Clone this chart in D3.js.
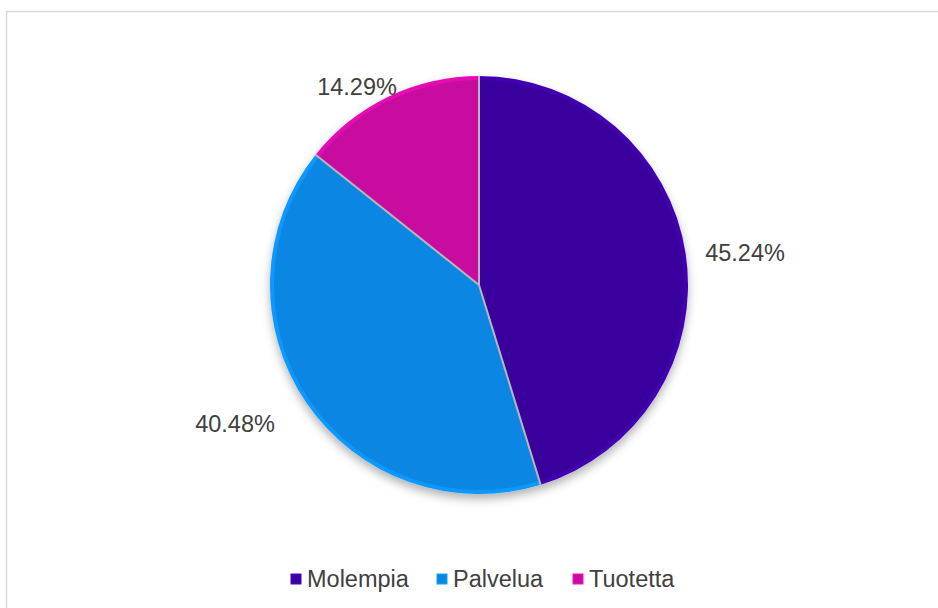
<!DOCTYPE html>
<html>
<head>
<meta charset="utf-8">
<script src="https://cdn.jsdelivr.net/npm/d3@7"></script>
<style>
  body { margin: 0; background: #fff; }
  svg { display: block; font-family: "Liberation Sans", Arial, sans-serif; }
</style>
</head>
<body>
<script>
    var categories = ['Molempia', 'Palvelua', 'Tuotetta'],
        values = [45.24, 40.48, 14.29],
        labels = ['45.24%', '40.48%', '14.29%'],
        colors = ['#3a009e', '#0b86e2', '#c90ca0'];

    var width = 938,
        height = 608,
        cx = 479,
        cy = 285,
        radius = 209;

    var svg = d3.select('body').append('svg')
        .attr('width', width)
        .attr('height', height);

    var defs = svg.append('defs');

    var shadow = defs.append('filter')
        .attr('id', 'shadow')
        .attr('x', '-20%').attr('y', '-20%')
        .attr('width', '140%').attr('height', '140%');
    shadow.append('feDropShadow')
        .attr('dx', 0).attr('dy', 5)
        .attr('stdDeviation', 5)
        .attr('flood-color', '#000')
        .attr('flood-opacity', 0.3);

    // frame
    svg.append('rect')
        .attr('x', 6.5).attr('y', 11.5)
        .attr('width', width)
        .attr('height', height)
        .attr('fill', 'none')
        .attr('stroke', '#d9d9d9')
        .attr('stroke-width', 1.5);

    var pie = d3.pie().sort(null).value(function (d) { return d; });
    var arcs = pie(values);

    var arc = d3.arc().innerRadius(0).outerRadius(radius);
    var inner = d3.arc().innerRadius(0).outerRadius(radius - 4);

    var g = svg.append('g')
        .attr('transform', 'translate(' + cx + ',' + cy + ')');

    var slices = g.append('g').attr('filter', 'url(#shadow)');

    slices.selectAll('path.slice')
        .data(arcs)
        .enter().append('path')
        .attr('class', 'slice')
        .attr('d', arc)
        .attr('fill', function (d, i) { return d3.color(colors[i]).brighter(0.35); });

    // bevel: slightly darker inner body
    g.selectAll('path.inner')
        .data(arcs)
        .enter().append('path')
        .attr('class', 'inner')
        .attr('d', inner)
        .attr('fill', function (d, i) { return colors[i]; });

    // gray separators between slices
    g.selectAll('line.sep')
        .data(arcs)
        .enter().append('line')
        .attr('class', 'sep')
        .attr('x1', 0).attr('y1', 0)
        .attr('x2', function (d) { return radius * Math.sin(d.startAngle); })
        .attr('y2', function (d) { return -radius * Math.cos(d.startAngle); })
        .attr('stroke', '#b8b8b8')
        .attr('stroke-width', 2);

    // data labels
    var labelPos = [[745, 253], [235, 424], [357, 87]];
    g.selectAll('text.label')
        .data(arcs)
        .enter().append('text')
        .attr('class', 'label')
        .attr('x', function (d, i) { return labelPos[i][0] - cx; })
        .attr('y', function (d, i) { return labelPos[i][1] - cy; })
        .attr('dy', '0.35em')
        .attr('text-anchor', 'middle')
        .attr('font-size', 23.5)
        .attr('fill', '#404040')
        .text(function (d, i) { return labels[i]; });

    // legend
    var legendX = [291, 437, 573];
    var legend = svg.append('g');
    var items = legend.selectAll('g')
        .data(categories)
        .enter().append('g')
        .attr('transform', function (d, i) { return 'translate(' + legendX[i] + ',579)'; });
    items.append('rect')
        .attr('x', 0).attr('y', -5)
        .attr('width', 10).attr('height', 10)
        .attr('fill', function (d, i) { return colors[i]; })
        .attr('stroke', function (d, i) { return d3.color(colors[i]).brighter(0.6); })
        .attr('stroke-width', 1);
    items.append('text')
        .attr('x', 16)
        .attr('dy', '0.35em')
        .attr('font-size', 23.5)
        .attr('fill', '#404040')
        .text(function (d) { return d; });
</script>
</body>
</html>
